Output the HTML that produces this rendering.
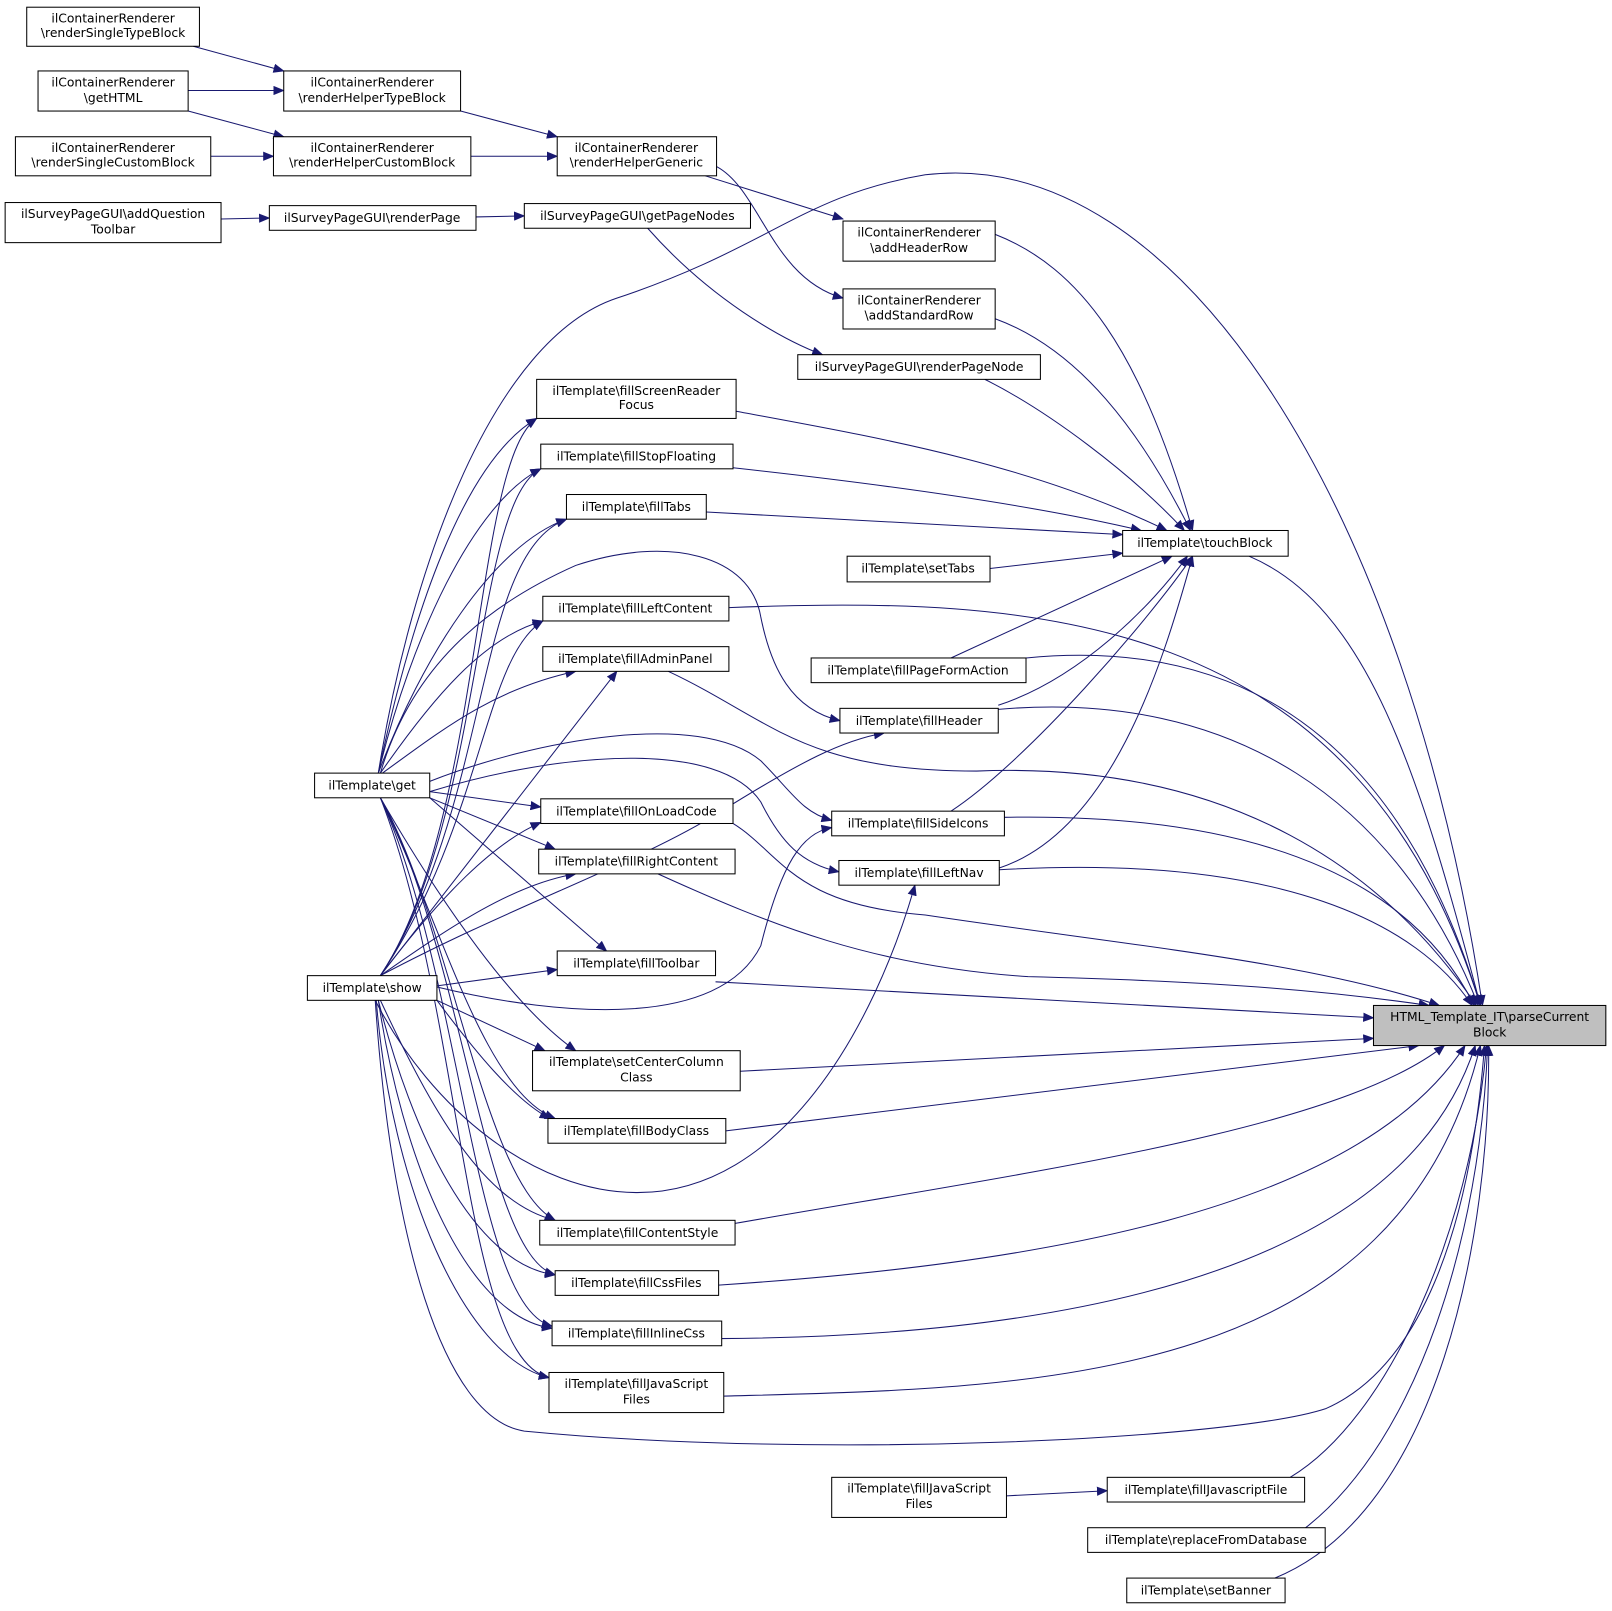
<!DOCTYPE html>
<html><head><meta charset="utf-8"><style>
html,body{margin:0;padding:0;background:#fff;}
svg{display:block;}
text{font-family:"DejaVu Sans","Liberation Sans",sans-serif;font-size:12px;fill:#000;}
.n{fill:#fff;stroke:#000;stroke-width:1;}
.e{fill:none;stroke:#191970;stroke-width:1;marker-end:url(#a);}
</style></head><body>
<svg width="1612" height="1611" viewBox="0 0 1568 1567" xmlns="http://www.w3.org/2000/svg">
<defs><marker id="a" markerUnits="userSpaceOnUse" markerWidth="11" markerHeight="9" refX="10" refY="4.5" orient="auto"><path d="M0,0 L11,4.5 L0,9 z" fill="#191970"/></marker></defs>
<g>
<path class="e" d="M188,45 L276,69"/>
<path class="e" d="M183,88 L276,88"/>
<path class="e" d="M183,108 L276,133"/>
<path class="e" d="M205,152 L266,152"/>
<path class="e" d="M448,108 L542,133"/>
<path class="e" d="M458,152 L542,152"/>
<path class="e" d="M215,213 L262,212"/>
<path class="e" d="M463,211 L510,210"/>
<path class="e" d="M686,171 L820,213"/>
<path class="e" d="M697,162 C740,185 750,270 820,290"/>
<path class="e" d="M630,222 C690,290 760,330 800,345"/>
<path class="e" d="M968,228 C1050,260 1110,340 1160,516"/>
<path class="e" d="M968,310 C1050,340 1110,420 1158,516"/>
<path class="e" d="M958,369 C1020,400 1100,460 1152,516"/>
<path class="e" d="M716,400 C850,425 1000,450 1135,516"/>
<path class="e" d="M713,455 C850,470 1000,490 1110,516"/>
<path class="e" d="M687,498 L1092,520"/>
<path class="e" d="M963,553 L1092,538"/>
<path class="e" d="M925,640 L1140,541"/>
<path class="e" d="M971,686 C1050,660 1120,590 1155,541"/>
<path class="e" d="M925,789 C1000,740 1120,600 1160,541"/>
<path class="e" d="M970,845 C1080,810 1130,650 1160,541"/>
<path class="e" d="M1215,541 C1330,590 1380,750 1440,978"/>
<path class="e" d="M368,752 C400,550 480,330 600,290 C750,240 780,190 900,170 C1150,140 1370,500 1442,978"/>
<path class="e" d="M709,591 C1000,580 1320,590 1440,978"/>
<path class="e" d="M998,640 C1200,620 1360,710 1440,978"/>
<path class="e" d="M971,690 C1200,670 1360,780 1438,978"/>
<path class="e" d="M650,653 C750,700 780,750 950,750 C1200,740 1350,850 1436,978"/>
<path class="e" d="M977,795 C1250,790 1380,870 1434,978"/>
<path class="e" d="M972,846 C1250,830 1380,900 1432,978"/>
<path class="e" d="M713,801 C760,830 770,880 900,890 C1100,920 1270,935 1400,978"/>
<path class="e" d="M640,850 C750,900 850,940 1000,950 C1200,955 1300,965 1390,978"/>
<path class="e" d="M696,955 L1336,990"/>
<path class="e" d="M720,1042 L1336,1010"/>
<path class="e" d="M706,1100 L1380,1017"/>
<path class="e" d="M715,1190 C1000,1140 1300,1100 1405,1017"/>
<path class="e" d="M699,1250 C1000,1230 1320,1180 1425,1017"/>
<path class="e" d="M702,1302 C1000,1300 1360,1250 1435,1017"/>
<path class="e" d="M704,1358 C1000,1350 1360,1350 1440,1017"/>
<path class="e" d="M365,973 C380,1200 430,1380 510,1392 C800,1420 1200,1400 1290,1370 C1380,1330 1430,1200 1444,1017"/>
<path class="e" d="M1255,1437 C1350,1380 1430,1200 1446,1017"/>
<path class="e" d="M1270,1486 C1380,1400 1440,1200 1447,1017"/>
<path class="e" d="M1240,1535 C1400,1470 1450,1200 1448,1017"/>
<path class="e" d="M979,1455 L1077,1450"/>
<path class="e" d="M368,752 C400,600 450,450 522,407"/>
<path class="e" d="M368,752 C400,620 460,490 526,456"/>
<path class="e" d="M368,752 C410,640 480,530 551,505"/>
<path class="e" d="M370,752 C420,680 470,620 528,604"/>
<path class="e" d="M372,752 C430,710 480,670 560,653"/>
<path class="e" d="M370,752 C400,650 470,590 560,550 C650,520 730,540 740,600 C750,650 770,690 817,701"/>
<path class="e" d="M418,760 C520,720 680,690 740,740 C770,770 780,790 809,798"/>
<path class="e" d="M418,770 C550,730 700,720 740,780 C760,820 780,840 816,848"/>
<path class="e" d="M418,770 L526,785"/>
<path class="e" d="M418,776 L540,826"/>
<path class="e" d="M418,776 L590,925"/>
<path class="e" d="M370,776 C430,880 500,980 560,1022"/>
<path class="e" d="M370,776 C430,900 470,1060 540,1088"/>
<path class="e" d="M370,776 C440,900 470,1150 540,1187"/>
<path class="e" d="M370,776 C450,920 470,1220 540,1240"/>
<path class="e" d="M370,776 C450,950 460,1270 537,1290"/>
<path class="e" d="M370,776 C450,980 450,1320 534,1340"/>
<path class="e" d="M370,949 C470,800 460,450 522,407"/>
<path class="e" d="M370,949 C470,800 460,490 526,456"/>
<path class="e" d="M370,949 C480,780 460,540 551,505"/>
<path class="e" d="M370,949 C470,800 470,640 528,604"/>
<path class="e" d="M370,949 L600,653"/>
<path class="e" d="M370,949 C500,880 620,840 700,790 C780,740 820,720 860,713"/>
<path class="e" d="M425,960 C550,990 700,1000 740,920 C760,840 780,810 809,805"/>
<path class="e" d="M365,973 C420,1080 520,1160 620,1160 C760,1160 850,1000 890,861"/>
<path class="e" d="M370,949 C430,870 480,820 526,800"/>
<path class="e" d="M370,949 C440,900 500,860 560,850"/>
<path class="e" d="M425,959 L542,943"/>
<path class="e" d="M425,973 L530,1022"/>
<path class="e" d="M425,973 C460,1020 500,1070 535,1088"/>
<path class="e" d="M370,973 C420,1080 470,1170 540,1187"/>
<path class="e" d="M368,973 C400,1100 460,1230 540,1240"/>
<path class="e" d="M368,973 C390,1120 450,1280 537,1292"/>
<path class="e" d="M366,973 C380,1150 450,1320 534,1340"/>
</g>
<g>
<rect class="n" x="26" y="7" width="168" height="38"/><text x="110" y="22" text-anchor="middle">ilContainerRenderer</text><text x="110" y="36" text-anchor="middle">\renderSingleTypeBlock</text>
<rect class="n" x="37" y="69" width="146" height="39"/><text x="110" y="84" text-anchor="middle">ilContainerRenderer</text><text x="110" y="99" text-anchor="middle">\getHTML</text>
<rect class="n" x="15" y="133" width="190" height="38"/><text x="110" y="148" text-anchor="middle">ilContainerRenderer</text><text x="110" y="162" text-anchor="middle">\renderSingleCustomBlock</text>
<rect class="n" x="276" y="69" width="172" height="39"/><text x="362" y="84" text-anchor="middle">ilContainerRenderer</text><text x="362" y="99" text-anchor="middle">\renderHelperTypeBlock</text>
<rect class="n" x="266" y="133" width="192" height="38"/><text x="362" y="148" text-anchor="middle">ilContainerRenderer</text><text x="362" y="162" text-anchor="middle">\renderHelperCustomBlock</text>
<rect class="n" x="542" y="133" width="155" height="38"/><text x="619" y="148" text-anchor="middle">ilContainerRenderer</text><text x="619" y="162" text-anchor="middle">\renderHelperGeneric</text>
<rect class="n" x="5" y="197" width="210" height="39"/><text x="110" y="212" text-anchor="middle">ilSurveyPageGUI\addQuestion</text><text x="110" y="227" text-anchor="middle">Toolbar</text>
<rect class="n" x="262" y="200" width="201" height="24"/><text x="362" y="216" text-anchor="middle">ilSurveyPageGUI\renderPage</text>
<rect class="n" x="510" y="198" width="220" height="24"/><text x="620" y="214" text-anchor="middle">ilSurveyPageGUI\getPageNodes</text>
<rect class="n" x="820" y="215" width="148" height="39"/><text x="894" y="230" text-anchor="middle">ilContainerRenderer</text><text x="894" y="245" text-anchor="middle">\addHeaderRow</text>
<rect class="n" x="820" y="281" width="148" height="39"/><text x="894" y="296" text-anchor="middle">ilContainerRenderer</text><text x="894" y="311" text-anchor="middle">\addStandardRow</text>
<rect class="n" x="776" y="345" width="236" height="24"/><text x="894" y="361" text-anchor="middle">ilSurveyPageGUI\renderPageNode</text>
<rect class="n" x="522" y="369" width="194" height="38"/><text x="619" y="384" text-anchor="middle">ilTemplate\fillScreenReader</text><text x="619" y="398" text-anchor="middle">Focus</text>
<rect class="n" x="526" y="432" width="187" height="24"/><text x="619" y="448" text-anchor="middle">ilTemplate\fillStopFloating</text>
<rect class="n" x="551" y="481" width="136" height="24"/><text x="619" y="497" text-anchor="middle">ilTemplate\fillTabs</text>
<rect class="n" x="1092" y="516" width="161" height="25"/><text x="1172" y="532" text-anchor="middle">ilTemplate\touchBlock</text>
<rect class="n" x="824" y="541" width="139" height="25"/><text x="893" y="557" text-anchor="middle">ilTemplate\setTabs</text>
<rect class="n" x="528" y="580" width="181" height="24"/><text x="618" y="596" text-anchor="middle">ilTemplate\fillLeftContent</text>
<rect class="n" x="528" y="629" width="181" height="24"/><text x="618" y="645" text-anchor="middle">ilTemplate\fillAdminPanel</text>
<rect class="n" x="789" y="640" width="209" height="24"/><text x="893" y="656" text-anchor="middle">ilTemplate\fillPageFormAction</text>
<rect class="n" x="817" y="689" width="154" height="24"/><text x="894" y="705" text-anchor="middle">ilTemplate\fillHeader</text>
<rect class="n" x="306" y="752" width="112" height="24"/><text x="362" y="768" text-anchor="middle">ilTemplate\get</text>
<rect class="n" x="526" y="777" width="187" height="24"/><text x="619" y="793" text-anchor="middle">ilTemplate\fillOnLoadCode</text>
<rect class="n" x="809" y="789" width="168" height="24"/><text x="893" y="805" text-anchor="middle">ilTemplate\fillSideIcons</text>
<rect class="n" x="524" y="826" width="191" height="24"/><text x="619" y="842" text-anchor="middle">ilTemplate\fillRightContent</text>
<rect class="n" x="816" y="837" width="156" height="24"/><text x="894" y="853" text-anchor="middle">ilTemplate\fillLeftNav</text>
<rect class="n" x="542" y="925" width="154" height="24"/><text x="619" y="941" text-anchor="middle">ilTemplate\fillToolbar</text>
<rect class="n" x="299" y="949" width="126" height="24"/><text x="362" y="965" text-anchor="middle">ilTemplate\show</text>
<rect x="1336" y="978" width="226" height="39" fill="#bfbfbf" stroke="#000"/><text x="1449" y="993" text-anchor="middle">HTML_Template_IT\parseCurrent</text><text x="1449" y="1008" text-anchor="middle">Block</text>
<rect class="n" x="518" y="1022" width="202" height="39"/><text x="619" y="1037" text-anchor="middle">ilTemplate\setCenterColumn</text><text x="619" y="1052" text-anchor="middle">Class</text>
<rect class="n" x="533" y="1088" width="173" height="24"/><text x="619" y="1104" text-anchor="middle">ilTemplate\fillBodyClass</text>
<rect class="n" x="525" y="1187" width="190" height="24"/><text x="620" y="1203" text-anchor="middle">ilTemplate\fillContentStyle</text>
<rect class="n" x="540" y="1236" width="159" height="24"/><text x="619" y="1252" text-anchor="middle">ilTemplate\fillCssFiles</text>
<rect class="n" x="537" y="1285" width="165" height="24"/><text x="619" y="1301" text-anchor="middle">ilTemplate\fillInlineCss</text>
<rect class="n" x="534" y="1335" width="170" height="39"/><text x="619" y="1350" text-anchor="middle">ilTemplate\fillJavaScript</text><text x="619" y="1365" text-anchor="middle">Files</text>
<rect class="n" x="809" y="1437" width="170" height="39"/><text x="894" y="1452" text-anchor="middle">ilTemplate\fillJavaScript</text><text x="894" y="1467" text-anchor="middle">Files</text>
<rect class="n" x="1077" y="1437" width="192" height="24"/><text x="1173" y="1453" text-anchor="middle">ilTemplate\fillJavascriptFile</text>
<rect class="n" x="1058" y="1486" width="231" height="24"/><text x="1173" y="1502" text-anchor="middle">ilTemplate\replaceFromDatabase</text>
<rect class="n" x="1096" y="1535" width="154" height="24"/><text x="1173" y="1551" text-anchor="middle">ilTemplate\setBanner</text>
</g>
</svg>
</body></html>
